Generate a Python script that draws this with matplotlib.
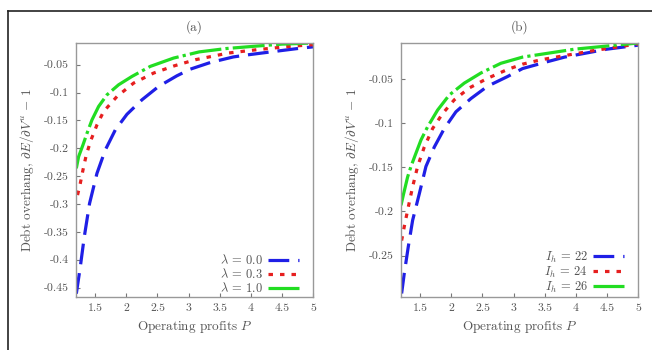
import numpy as np
import matplotlib
matplotlib.use('Agg')
import matplotlib.pyplot as plt
from matplotlib.lines import Line2D

# panel (a): debt overhang vs operating profits, by lambda
p_a_blue = [1.195, 1.259, 1.323, 1.408, 1.527, 1.661, 1.822, 2.009, 2.25, 2.518, 2.81, 3.027, 3.35, 3.72, 3.97, 4.39, 4.82, 5.0]
v_a_blue = [-0.461, -0.413, -0.359, -0.299, -0.245, -0.203, -0.167, -0.139, -0.113, -0.089, -0.070, -0.058, -0.046, -0.036, -0.032, -0.026, -0.020, -0.018]
p_a_red = [1.215, 1.259, 1.302, 1.355, 1.431, 1.527, 1.634, 1.849, 2.116, 2.437, 2.77, 3.11, 3.64, 4.1, 4.63, 5.0]
v_a_red = [-0.284, -0.263, -0.239, -0.212, -0.185, -0.158, -0.134, -0.107, -0.083, -0.065, -0.052, -0.041, -0.029, -0.023, -0.017, -0.014]
p_a_green = [1.195, 1.232, 1.302, 1.367, 1.447, 1.553, 1.688, 1.875, 2.09, 2.384, 2.76, 3.17, 3.6, 4.04, 4.5, 5.0]
v_a_green = [-0.236, -0.215, -0.194, -0.173, -0.149, -0.125, -0.104, -0.086, -0.071, -0.053, -0.038, -0.027, -0.021, -0.017, -0.013, -0.011]
labels_a = [r'$\lambda$ = 0.0', r'$\lambda$ = 0.3', r'$\lambda$ = 1.0']

# panel (b): by investment cost I_h
p_b_blue = [1.2, 1.243, 1.307, 1.377, 1.484, 1.591, 1.725, 1.886, 2.073, 2.314, 2.582, 2.903, 3.144, 3.5, 3.82, 4.5, 5.0]
v_b_blue = [-0.293, -0.270, -0.240, -0.210, -0.180, -0.149, -0.127, -0.106, -0.087, -0.072, -0.058, -0.047, -0.038, -0.031, -0.025, -0.016, -0.0115]
p_b_red = [1.2, 1.243, 1.307, 1.377, 1.457, 1.564, 1.698, 1.859, 2.046, 2.287, 2.582, 2.903, 3.144, 3.44, 4.25, 5.0]
v_b_red = [-0.233, -0.217, -0.195, -0.172, -0.149, -0.127, -0.106, -0.089, -0.0735, -0.060, -0.049, -0.039, -0.033, -0.028, -0.018, -0.010]
p_b_green = [1.19, 1.232, 1.296, 1.35, 1.43, 1.511, 1.618, 1.779, 1.966, 2.207, 2.475, 2.796, 3.144, 3.98, 5.0]
v_b_green = [-0.193, -0.180, -0.161, -0.149, -0.134, -0.119, -0.104, -0.085, -0.068, -0.0545, -0.043, -0.032, -0.025, -0.016, -0.009]
labels_b = [r'$I_h$ = 22', r'$I_h$ = 24', r'$I_h$ = 26']

xticks = [1.5, 2, 2.5, 3, 3.5, 4, 4.5, 5]
yticks_a = [-0.45, -0.4, -0.35, -0.3, -0.25, -0.2, -0.15, -0.1, -0.05]
yticks_b = [-0.25, -0.2, -0.15, -0.1, -0.05]

plt.rcParams['font.family'] = ['cmr10', 'DejaVu Serif']
plt.rcParams['mathtext.fontset'] = 'cm'
plt.rcParams['axes.unicode_minus'] = False
plt.rcParams['axes.formatter.use_mathtext'] = True

txt = '#555555'
fig = plt.figure(figsize=(6.52, 3.5), dpi=100)

# outer frame lines (top and left)
fig.add_artist(Line2D([8/652, 1], [1 - 11/350, 1 - 11/350], color='#222222', lw=1.2))
fig.add_artist(Line2D([8/652, 8/652], [0, 1 - 11/350], color='#222222', lw=1.2))

styles = [
    dict(color='#1f1fe6', dashes=(6.5, 2.8)),
    dict(color='#e61f1f', dashes=(1.4, 2.2)),
    dict(color='#22dd22', dashes=(10, 1.3, 1, 1.3)),
]


def panel(rect, title, data, labels, ylim, yticks):
    ax = fig.add_axes(rect)
    for (p, v), st, lab in zip(data, styles, labels):
        ax.plot(p, v, lw=2.3, label=lab, **st)
    ax.set_xlim(1.19, 5)
    ax.set_ylim(*ylim)
    ax.set_xticks(xticks)
    ax.set_xticklabels([f'{t:g}' for t in xticks])
    ax.set_yticks(yticks)
    ax.set_yticklabels([f'{t:g}' for t in yticks])
    for s in ax.spines.values():
        s.set_color('#999999')
        s.set_linewidth(1.0)
    ax.tick_params(direction='in', length=3, color='#777777', labelsize=8.5,
                   labelcolor=txt, pad=5)
    ax.set_xlabel('Operating profits $P$', fontsize=9.5, color=txt, labelpad=4)
    ax.set_ylabel(r'Debt overhang, $\partial E/\partial V^u$ $-$ 1', fontsize=9.5,
                  color=txt, labelpad=6)
    ax.set_title(title, fontsize=9.5, color=txt, pad=9)
    ax.legend(loc='lower right', bbox_to_anchor=(1 - 4/237, -8/254),
              frameon=False, markerfirst=False, fontsize=9,
              handlelength=2.45, handletextpad=0.45, labelspacing=0.0,
              borderaxespad=0.4, labelcolor=txt)
    return ax


panel([76/652, 53/350, 237/652, 254/350], '(a)',
      [(p_a_blue, v_a_blue), (p_a_red, v_a_red), (p_a_green, v_a_green)],
      labels_a, (-0.467, -0.011), yticks_a)
panel([401/652, 53/350, 237/652, 254/350], '(b)',
      [(p_b_blue, v_b_blue), (p_b_red, v_b_red), (p_b_green, v_b_green)],
      labels_b, (-0.297, -0.009), yticks_b)

fig.savefig('out.png', dpi=100)
